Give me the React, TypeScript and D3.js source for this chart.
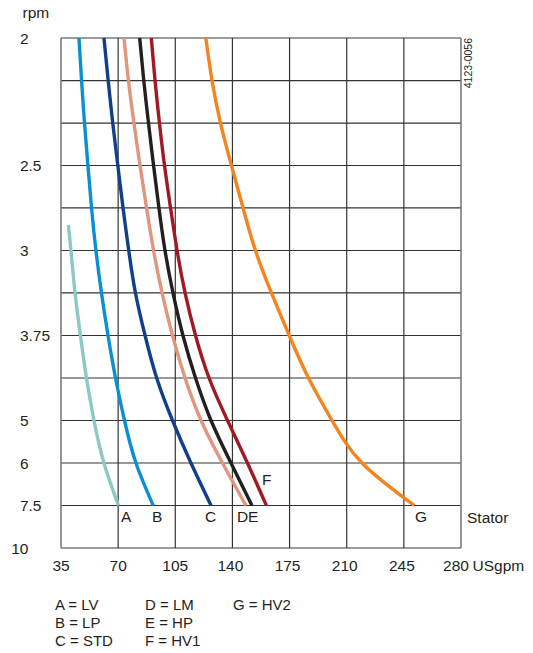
import React from "react";
import * as d3 from "d3";

// ---- data ----
const xTicks = [35, 70, 105, 140, 175, 210, 245, 280];
const yTickLabels = [2, 2.5, 3, 3.75, 5, 6, 7.5, 10];
const gridRpm = [2, 2.143, 2.308, 2.5, 2.727, 3, 3.333, 3.75, 4.286, 5, 6, 7.5, 10];

const rpmLevels = [2, 2.143, 2.308, 2.5, 2.727, 3, 3.333, 3.75, 4.286, 5, 6, 7.5];
const rpmA = [2.83, 3, 3.333, 3.75, 4.286, 5, 6, 7.5];

const flowA = [39.5, 41.1, 43.6, 46.9, 50.6, 55.2, 61.3, 70.2];
const flowB = [46.0, 47.6, 49.4, 51.5, 53.7, 56.4, 59.8, 63.8, 68.4, 73.9, 80.9, 91.5];
const flowC = [61.3, 63.9, 66.7, 69.8, 73.0, 76.5, 80.6, 86.5, 93.6, 103.3, 114.6, 126.9];
const flowD = [73.6, 76.3, 79.7, 83.4, 87.4, 91.7, 96.9, 103.3, 111.0, 120.8, 133.9, 148.3];
const flowE = [83.2, 85.7, 88.6, 91.7, 95.0, 98.7, 103.6, 109.7, 117.4, 126.9, 139.1, 152.0];
const flowF = [90.3, 92.6, 95.3, 98.4, 102.1, 106.1, 111.0, 117.4, 125.7, 137.0, 149.2, 160.8];
const flowG = [123.7, 127.5, 132.7, 139.4, 146.5, 154.1, 163.9, 174.8, 186.6, 201.0, 219.4, 251.4];

const curveKeys = ["A", "B", "C", "D", "E", "F", "G"];
const curveColors = ["#8cc9c3", "#0a90d2", "#123f8a", "#df967c", "#231f20", "#a01a22", "#f5841f"];
const labelFlow = [71.8, 90.7, 123.2, 142.8, 149.5, 158.1, 251.8];

const legendCol1 = ["A = LV", "B = LP", "C = STD"];
const legendCol2 = ["D = LM", "E = HP", "F = HV1"];
const legendCol3 = ["G = HV2"];

const W = 533;
const H = 653;
const FONT = "'Liberation Sans', Arial, Helvetica, sans-serif";

export default function App() {
  const x = d3.scaleLinear().domain([35, 280]).range([61, 461]);
  const yInv = d3.scaleLinear().domain([1 / 2, 1 / 10]).range([38, 548]);
  const y = (rpm: number) => yInv(1 / rpm);

  const series = [
    { flows: flowA, rpms: rpmA },
    { flows: flowB, rpms: rpmLevels },
    { flows: flowC, rpms: rpmLevels },
    { flows: flowD, rpms: rpmLevels },
    { flows: flowE, rpms: rpmLevels },
    { flows: flowF, rpms: rpmLevels },
    { flows: flowG, rpms: rpmLevels },
  ];

  const line = d3
    .line<[number, number]>()
    .x((d) => x(d[0]))
    .y((d) => y(d[1]))
    .curve(d3.curveNatural);

  const [x0, x1] = x.range();
  const [y0, y1] = yInv.range();

  return (
    <svg
      width={W}
      height={H}
      style={{ position: "absolute", left: 0, top: 0, background: "#fff" }}
      fontFamily={FONT}
    >
      {/* grid */}
      {gridRpm.map((r, i) => (
        <line
          key={"h" + i}
          x1={x0}
          x2={x1}
          y1={y(r)}
          y2={y(r)}
          stroke={i === 0 || i === gridRpm.length - 1 ? "#7a7a7a" : "#333"}
          strokeWidth={i === 0 || i === gridRpm.length - 1 ? 1.6 : 1.2}
        />
      ))}
      {xTicks.map((t, i) => (
        <line
          key={"v" + i}
          x1={x(t)}
          x2={x(t)}
          y1={y0}
          y2={y1}
          stroke={i === 0 || i === xTicks.length - 1 ? "#7a7a7a" : "#333"}
          strokeWidth={i === 0 || i === xTicks.length - 1 ? 1.6 : 1.2}
        />
      ))}

      {/* curves */}
      {series.map((s, i) => (
        <path
          key={curveKeys[i]}
          d={line(s.flows.map((f, j) => [f, s.rpms[j]] as [number, number])) || ""}
          fill="none"
          stroke={curveColors[i]}
          strokeWidth={3.4}
          strokeLinecap="butt"
        />
      ))}

      {/* curve end labels */}
      {curveKeys.map((k, i) => (
        <text
          key={"l" + k}
          x={x(labelFlow[i])}
          y={k === "F" ? y(7.5) - 21 : y(7.5) + 16}
          fontSize={15.5}
          fill="#231f20"
        >
          {k}
        </text>
      ))}
      <text x={467} y={y(7.5) + 17} fontSize={15.5} fill="#231f20">
        Stator
      </text>

      {/* y tick labels, aligned on the decimal point */}
      {yTickLabels.map((v) => {
        const s = String(v);
        const dot = s.indexOf(".");
        const intPart = dot >= 0 ? s.slice(0, dot) : s;
        const frac = dot >= 0 ? s.slice(dot) : "";
        return (
          <g key={"yt" + s}>
            <text x={28.5} y={y(v)} dy="0.36em" textAnchor="end" fontSize={15.5} fill="#231f20">
              {intPart}
            </text>
            {frac && (
              <text x={28.5} y={y(v)} dy="0.36em" textAnchor="start" fontSize={15.5} fill="#231f20">
                {frac}
              </text>
            )}
          </g>
        );
      })}
      <text x={22.5} y={18} fontSize={15.5} fill="#231f20">
        rpm
      </text>

      {/* x tick labels */}
      {xTicks.map((t, i) => (
        <text
          key={"xt" + t}
          x={x(t) - (i === xTicks.length - 1 ? 5 : i >= 3 ? 2 : 0)}
          y={571}
          textAnchor="middle"
          fontSize={15.5}
          fill="#231f20"
        >
          {t}
        </text>
      ))}
      <text x={472.5} y={571} fontSize={15.5} fill="#231f20">
        USgpm
      </text>

      {/* figure code */}
      <text
        transform={`translate(472,${y0}) rotate(-90)`}
        textAnchor="end"
        fontSize={10.5}
        fill="#231f20"
      >
        4123-0056
      </text>

      {/* legend */}
      {[legendCol1, legendCol2, legendCol3].map((col, ci) =>
        col.map((txt, ri) => (
          <text
            key={"lg" + ci + ri}
            x={[55, 145, 233][ci]}
            y={610 + ri * 18}
            fontSize={15}
            fill="#231f20"
          >
            {txt}
          </text>
        ))
      )}
    </svg>
  );
}
